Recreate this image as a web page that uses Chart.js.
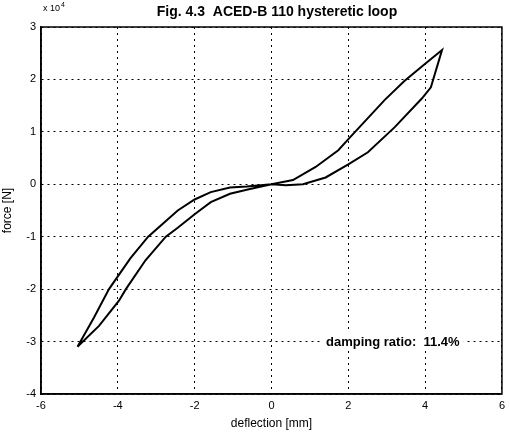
<!DOCTYPE html>
<html>
<head>
<meta charset="utf-8">
<script src="https://cdn.jsdelivr.net/npm/chart.js@4"></script>
<style>
  html, body { margin: 0; padding: 0; background: #fff; }
  #wrap { width: 510px; height: 434px; }
</style>
</head>
<body>
<div id="wrap"><canvas id="loopChart" width="510" height="434"></canvas></div>
<script>
// hysteresis loop, force in units of 1e4 N
// upper branch: from bottom-left tip up to top-right tip
const upperX = [-5.05, -4.62, -4.23, -3.67, -3.21, -2.44, -2.0, -1.58, -1.08, -0.64, 0, 0.56, 1.15, 1.74, 2.05, 2.95, 3.46, 3.97, 4.44];
const upperY = [-3.1, -2.54, -2.0, -1.41, -1.0, -0.5, -0.29, -0.15, -0.06, -0.04, 0, 0.08, 0.33, 0.65, 0.9, 1.61, 1.97, 2.28, 2.56];
// lower branch: from top-right tip back down to bottom-left tip
const lowerX = [4.44, 4.15, 3.92, 3.21, 2.51, 2.0, 1.41, 0.82, 0.38, 0, -0.56, -1.08, -1.58, -2.0, -2.44, -2.75, -3.28, -3.79, -3.97, -4.49, -5.05];
const lowerY = [2.56, 1.85, 1.64, 1.09, 0.61, 0.38, 0.13, 0.0, -0.02, 0, -0.09, -0.18, -0.34, -0.57, -0.83, -1.0, -1.45, -2.0, -2.22, -2.7, -3.1];

const xTicks = [-6, -4, -2, 0, 2, 4, 6];
const yTicks = [-4, -3, -2, -1, 0, 1, 2, 3];

const titleText = 'Fig. 4.3  ACED-B 110 hysteretic loop';
const noteText = 'damping ratio:  11.4%';

const loopPoints = upperX.map((x, i) => ({ x: x, y: upperY[i] }))
    .concat(lowerX.map((x, i) => ({ x: x, y: lowerY[i] })));

const fontFam = '"Liberation Sans", Arial, sans-serif';

// frame, title, exponent and the damping note
const extras = {
    id: 'extras',
    beforeDatasetsDraw(chart) {
        const ctx = chart.ctx;
        const xs = chart.scales.x, ys = chart.scales.y;
        ctx.save();
        // white box behind the note so the grid line is hidden
        ctx.font = 'bold 13px ' + fontFam;
        const w = ctx.measureText(noteText).width;
        const nx = xs.getPixelForValue(1.42);
        const ny = ys.getPixelForValue(-3);
        ctx.fillStyle = '#fff';
        ctx.fillRect(nx - 4, ny - 9, w + 8, 18);
        ctx.fillStyle = '#000';
        ctx.textBaseline = 'middle';
        ctx.fillText(noteText, nx, ny + 1);
        ctx.restore();
    },
    afterDraw(chart) {
        const ctx = chart.ctx;
        const a = chart.chartArea;
        ctx.save();
        ctx.strokeStyle = '#000';
        ctx.lineWidth = 1.5;
        ctx.strokeRect(a.left, a.top, a.right - a.left, a.bottom - a.top);
        ctx.fillStyle = '#000';
        ctx.font = 'bold 14px ' + fontFam;
        ctx.textAlign = 'center';
        ctx.textBaseline = 'middle';
        ctx.fillText(titleText, 277, 12);
        ctx.textAlign = 'left';
        ctx.font = '9px ' + fontFam;
        ctx.fillText('x 10', 43, 9);
        ctx.font = '7px ' + fontFam;
        ctx.fillText('4', 61, 5);
        ctx.restore();
    }
};

new Chart(document.getElementById('loopChart'), {
    type: 'scatter',
    data: {
        datasets: [{
            data: loopPoints,
            showLine: true,
            borderColor: '#000',
            borderWidth: 2,
            pointRadius: 0,
            tension: 0,
            fill: false
        }]
    },
    options: {
        responsive: false,
        animation: false,
        layout: { padding: { top: 27, right: 2, left: 0, bottom: 0 } },
        plugins: {
            legend: { display: false },
            tooltip: { enabled: false }
        },
        scales: {
            x: {
                type: 'linear',
                min: -6,
                max: 6,
                afterBuildTicks: (s) => { s.ticks = xTicks.map(v => ({ value: v })); },
                afterFit: (s) => { s.height = 40; },
                grid: { color: '#000', lineWidth: 1, drawTicks: false },
                border: { display: true, color: '#000', width: 1.5, dash: [2, 4] },
                ticks: { color: '#000', padding: 5, font: { family: fontFam, size: 11 } },
                title: {
                    display: true,
                    text: 'deflection [mm]',
                    color: '#000',
                    padding: { top: 0, bottom: 3 },
                    font: { family: fontFam, size: 12 }
                }
            },
            y: {
                type: 'linear',
                min: -4,
                max: 3,
                afterBuildTicks: (s) => { s.ticks = yTicks.map(v => ({ value: v })); },
                afterFit: (s) => { s.width = 41; },
                grid: { color: '#000', lineWidth: 1, drawTicks: false },
                border: { display: true, color: '#000', width: 1.5, dash: [2, 4] },
                ticks: { color: '#000', padding: 5, font: { family: fontFam, size: 11 } },
                title: {
                    display: true,
                    text: 'force [N]',
                    color: '#000',
                    padding: { top: 0, bottom: 0 },
                    font: { family: fontFam, size: 12 }
                }
            }
        }
    },
    plugins: [extras]
});
</script>
</body>
</html>
